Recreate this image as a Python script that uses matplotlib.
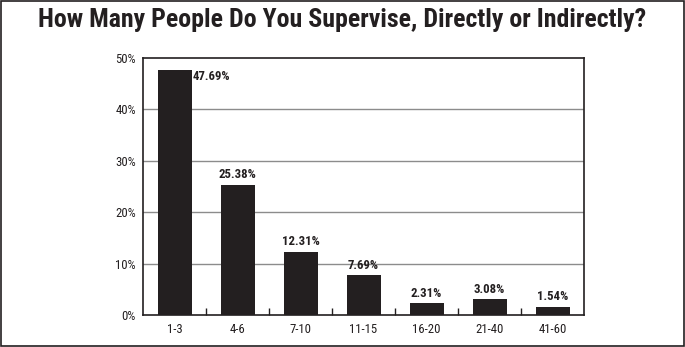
import matplotlib
matplotlib.use("Agg")
import matplotlib.pyplot as plt
from matplotlib.patches import Rectangle
from matplotlib.ticker import FuncFormatter

# survey answers: team size ranges and share of respondents
groups = ["1-3", "4-6", "7-10", "11-15", "16-20", "21-40", "41-60"]
shares = [47.69, 25.38, 12.31, 7.69, 2.31, 3.08, 1.54]
y_ticks = [0, 10, 20, 30, 40, 50]

narrow = ['Roboto Condensed', 'IBM Plex Sans Condensed', 'DejaVu Sans']
plt.rcParams['font.family'] = narrow
ink = '#231f20'

fig = plt.figure(figsize=(6.85, 3.47), dpi=100)
fig.patches.append(Rectangle((0.001, 0.004), 0.997, 0.993, transform=fig.transFigure,
                             fill=False, edgecolor=ink, linewidth=1.2))

fig.text(0.5, 0.943, "How Many People Do You Supervise, Directly or Indirectly?",
         ha='center', va='center', fontsize=18.6, fontweight='heavy', color=ink)

ax = fig.add_axes([0.2088, 0.0922, 0.6438, 0.7406])
x = range(len(groups))
ax.bar(x, shares, width=0.54, color=ink, zorder=3)

ax.set_xlim(-0.5, len(groups) - 0.5)
ax.set_ylim(0, 50)
ax.set_yticks(y_ticks)
ax.yaxis.set_major_formatter(FuncFormatter(lambda v, p: f"{v:.0f}%"))
ax.set_xticks(list(x))
ax.set_xticklabels(groups)
ax.set_xticks([i + 0.5 for i in range(len(groups) - 1)], minor=True)
ax.tick_params(axis='x', which='major', length=0, pad=6, labelsize=9.2, colors=ink)
ax.tick_params(axis='x', which='minor', direction='in', length=5, width=1, color=ink)
ax.tick_params(axis='y', length=0, pad=5, labelsize=9.2, colors=ink)

for yv in y_ticks[1:-1]:
    ax.axhline(yv, color='#8c8c8c', linewidth=1, zorder=1)
for s in ax.spines.values():
    s.set_color(ink)
    s.set_linewidth(1.2)

# value labels, the tallest bar gets its label beside the top
for i, v in enumerate(shares):
    if i == 0:
        ax.text(i + 0.28, v, f"{v:.2f}%", ha='left', va='top',
                fontsize=9.2, fontweight='bold', color=ink)
    else:
        ax.text(i, v + 0.7, f"{v:.2f}%", ha='center', va='bottom',
                fontsize=9.2, fontweight='bold', color=ink)

fig.savefig("out.png", dpi=100)
